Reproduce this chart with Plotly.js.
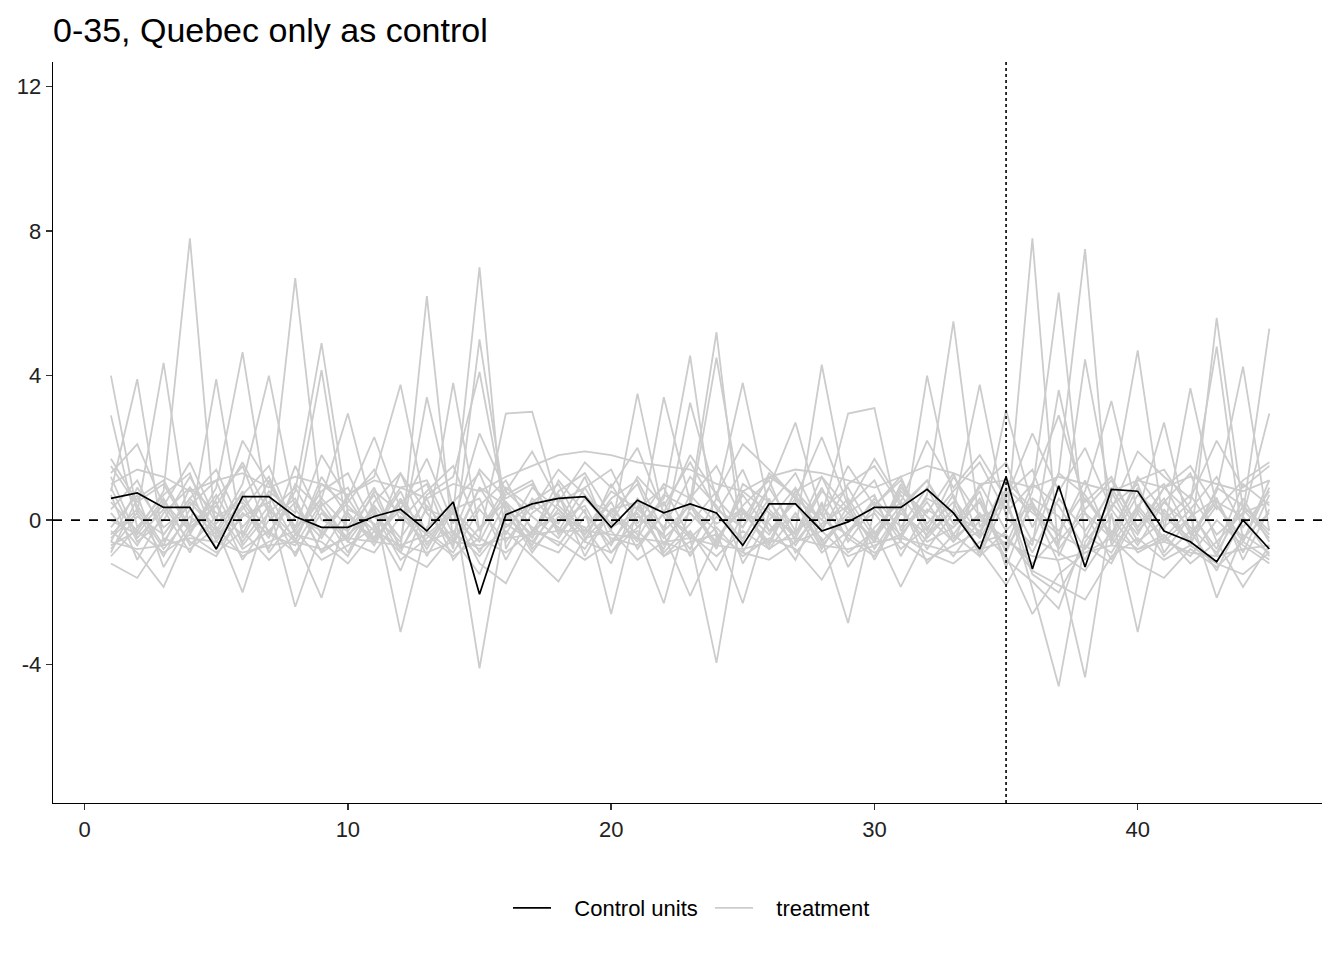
<!DOCTYPE html>
<html>
<head>
<meta charset="utf-8">
<script src="https://cdn.plot.ly/plotly-3.0.1.min.js"></script>
<style>
  html, body { margin: 0; padding: 0; background: #fff; }
  #chart { width: 1344px; height: 960px; }
</style>
</head>
<body>
<div id="chart"></div>
<script>
// periods 1..45
var periods = [];
for (var t = 1; t <= 45; t++) periods.push(t);

var treatPeriod = 35;
var xTicks = [0, 10, 20, 30, 40];
var yTicks = [-4, 0, 4, 8, 12];

// the black line
var control = [0.6, 0.75, 0.35, 0.35, -0.8, 0.65, 0.65, 0.1, -0.2, -0.2,
  0.1, 0.3, -0.3, 0.5, -2.05, 0.15, 0.45, 0.6, 0.65, -0.2,
  0.55, 0.2, 0.45, 0.2, -0.7, 0.45, 0.45, -0.3, -0.05, 0.35,
  0.35, 0.85, 0.2, -0.8, 1.2, -1.35, 0.95, -1.3, 0.85, 0.8,
  -0.3, -0.6, -1.15, 0.0, -0.8];

// grey lines, read off roughly
var tA = [0.5, -0.3, 0.8, 7.8, -0.5, 0.3, 1.2, -0.4, 0.6, -0.2, 0.9, -0.8, 6.2, -0.6, 0.4, 1.1, -0.3, 0.7, -0.5, 0.2, 1.0, -0.7, 0.5, 5.2, -0.9, 0.4, 1.3, -0.2, 0.6, -0.5, 0.9, 0.1, -0.6, 1.0, -0.3, 7.8, -1.0, 0.6, -0.4, 1.2, 0.2, -0.7, 5.6, 0.3, -0.5];
var tB = [-0.6, 0.9, -0.2, 0.4, 1.1, -0.7, 0.2, 6.7, 0.3, -0.9, 0.5, 1.3, -0.4, 0.2, 7.0, -0.8, 0.6, -0.1, 1.2, -0.6, 0.3, 0.9, -0.5, 0.2, 1.4, -0.3, 0.5, -0.8, 0.4, 1.1, -0.5, 0.7, 5.5, -0.2, 0.8, -0.6, 1.3, 7.5, -0.7, 0.4, 1.0, -0.4, 0.6, -0.9, 0.7];
var tC = [1.2, -0.5, 0.3, -0.9, 0.6, 1.5, -0.4, 0.8, 4.9, 0.2, -0.6, 0.5, 1.0, -0.8, 5.0, 0.3, -0.4, 1.1, 0.2, -0.7, 0.6, -0.2, 1.2, 0.4, -0.6, 0.9, -0.3, 4.3, 0.5, -0.8, 0.3, 1.1, -0.4, 0.6, -0.9, 0.8, 6.3, -0.5, 0.9, -0.3, 0.5, 1.3, -0.6, 0.2, 5.3];
var tD = [4.0, 0.2, 4.35, -0.4, 0.9, 4.65, 0.1, -0.6, 1.0, 0.4, -0.3, 0.8, -0.7, 0.5, 1.3, -0.4, 0.9, 0.3, -0.6, 1.0, -0.2, 0.6, 4.55, -0.5, 0.4, 1.1, -0.6, 0.3, 0.9, -0.4, 0.7, -0.3, 1.2, 0.1, -0.7, 1.0, 0.4, -0.8, 0.6, 4.7, -0.2, 0.5, 4.8, -0.6, 0.9];
var tE = [0.8, 3.9, -0.6, 0.5, -0.3, 1.0, 4.0, 0.3, -0.5, 0.7, 1.2, 3.75, 0.2, -0.6, 0.9, 0.4, -0.5, 0.8, 1.3, 0.1, -0.5, 0.7, 0.3, 4.5, 0.2, -0.6, 0.8, 1.2, -0.3, 0.5, -0.6, 4.0, 0.6, -0.4, 1.1, 0.3, -0.7, 4.45, 0.5, -0.4, 0.9, 0.2, -0.8, 1.0, 0.4];
var tF = [-0.9, 0.6, 1.1, -0.2, 3.9, -0.5, 0.8, 0.2, 4.15, -0.4, 0.3, -0.9, 0.7, 1.2, 4.1, 0.2, -0.7, 0.5, 0.9, -0.3, 3.5, 0.1, -0.8, 0.6, 3.8, 0.3, -0.5, 0.8, 0.2, -0.6, 1.0, -0.2, 0.5, -0.9, 0.9, 0.2, -0.4, 1.1, -0.6, 0.7, 0.1, -0.5, 0.8, 4.25, -0.3];
var tG = [2.9, -0.2, 0.7, 1.3, -0.6, 0.4, -0.8, 1.0, 0.3, -0.5, 0.8, 0.2, -0.4, 3.8, -0.3, 0.7, 1.1, -0.4, 0.6, 0.2, -0.6, 3.4, 0.5, -0.7, 0.8, 0.2, -0.4, 0.9, -0.6, 0.4, 1.2, -0.5, 0.3, 3.75, 0.1, -0.7, 3.6, 0.2, -0.5, 0.9, -0.3, 3.65, 0.4, -0.6, 1.1];
var tH = [1.5, 0.4, -0.7, 0.9, 0.2, -0.4, 1.1, -0.2, 0.6, 2.95, 0.1, -0.6, 3.4, 0.3, -0.5, 2.95, 3.0, 0.4, -0.3, 0.8, 0.3, -0.4, 3.25, 0.6, -0.2, 0.9, 2.7, 0.1, 2.95, 3.1, -0.3, 0.6, 0.2, -0.5, 3.05, 0.4, -0.3, 0.8, 3.3, 0.2, 2.7, -0.4, 0.5, 0.1, 2.95];
var tL1 = [-0.4, 0.3, -0.8, 0.1, -0.5, 0.6, -0.3, -0.9, 0.2, -0.6, 0.4, -3.1, -0.2, 0.5, -4.1, 0.1, -0.6, 0.3, -0.4, 0.5, -0.8, 0.2, -0.5, -3.95, 0.3, -0.4, 0.6, -0.7, 0.1, -0.5, 0.4, -0.8, 0.2, -0.3, 0.6, -1.9, -4.6, -0.6, 0.3, -0.7, 0.5, -0.2, -0.9, 0.4, -0.4];
var tL2 = [0.2, -0.7, 0.5, -0.3, 0.7, -0.6, 0.4, -2.4, -0.3, 0.6, -0.5, 0.3, -0.8, 0.4, -0.9, 0.5, -0.2, -0.7, 0.3, -2.6, 0.4, -0.5, 0.2, -0.6, 0.7, -0.3, 0.1, -0.5, -2.85, 0.3, -0.4, 0.5, -0.6, 0.2, -0.8, 0.4, -1.2, -4.35, 0.2, -3.1, 0.3, -0.6, 0.4, -0.5, 0.2];
var tL3 = [-0.8, 0.1, -0.4, 0.6, -0.2, -2.0, 0.3, -0.5, -2.15, 0.2, -0.7, 0.5, -0.3, -0.9, 0.3, -0.6, 0.4, -0.2, -0.8, 0.3, -0.4, -2.3, 0.4, -0.3, -2.3, 0.2, -0.7, 0.4, -0.5, -1.0, 0.3, -0.6, -0.2, 0.5, -1.1, -1.7, -2.45, -0.4, -0.9, 0.3, -0.6, 0.1, -2.15, -0.4, -0.9];
var tL4 = [-0.3, -0.9, -1.85, -0.2, 0.4, -0.8, -0.3, 0.5, -0.9, -0.4, 0.2, -1.1, -0.5, 0.2, -1.2, -1.75, -0.3, 0.2, -0.6, -0.9, 0.1, -0.4, -2.1, -0.5, 0.3, -0.8, -0.3, 0.2, -0.9, -0.3, -1.85, -0.4, 0.3, -0.8, -1.8, -0.5, -0.9, -1.4, -0.3, -0.8, -0.4, -1.2, -0.6, -1.85, -0.7];
var tL5 = [-1.2, -1.6, -0.5, -0.8, -0.2, -1.0, -0.6, -0.3, -1.1, -0.7, -0.2, -0.9, -1.3, -0.4, -0.8, -0.3, -1.0, -1.7, -0.5, -0.3, -1.1, -0.6, -0.9, -0.2, -1.0, -0.5, -0.8, -1.65, -0.4, -0.9, -0.6, -1.1, -0.7, -0.3, -1.0, -2.6, -1.5, -0.9, -0.5, -1.2, -1.6, -0.8, -1.3, -0.6, -1.1];
var tS1 = [1.0, 1.4, 1.2, 0.8, 1.1, 1.3, 0.9, 1.2, 1.0, 0.7, 1.1, 0.9, 0.6, 1.0, 0.8, 1.2, 1.5, 1.8, 1.9, 1.8, 1.6, 1.5, 1.4, 1.0, 0.8, 1.2, 1.4, 1.3, 1.1, 0.9, 1.2, 1.5, 1.3, 1.0, 1.1, 0.9, 1.2, 1.0, 0.8, 1.1, 0.9, 1.2, 1.0, 0.8, 1.1];
var tS2 = [-0.6, -0.8, -0.7, -0.5, -0.6, -0.9, -0.7, -0.6, -0.8, -0.5, -0.6, -0.7, -0.9, -0.6, -0.7, -0.5, -0.4, -0.3, -0.3, -0.4, -0.5, -0.6, -0.5, -0.7, -0.8, -0.6, -0.5, -0.7, -0.8, -0.6, -0.5, -0.7, -0.9, -0.8, -0.6, -1.0, -1.1, -0.9, -0.7, -0.8, -0.6, -0.9, -1.0, -0.8, -0.7];
var tN1 = [0.3, 1.1, -0.4, 0.6, 1.4, -0.2, 0.7, -0.6, 1.2, 0.1, -0.5, 1.3, 0.2, -0.7, 0.9, -0.2, 0.5, 1.0, -0.4, 0.6, 1.1, -0.3, 0.4, -0.8, 1.0, 0.5, -0.4, 1.2, 0.3, -0.6, 0.8, 0.2, 1.3, -0.5, 0.7, 1.4, -0.6, 0.3, 1.1, -0.2, 0.6, -0.7, 0.9, 0.4, -0.3];
var tN2 = [-0.5, 0.2, -1.0, 0.3, -0.4, 0.8, -0.9, 0.1, -0.3, -1.0, 0.4, -0.5, 0.6, -1.1, -0.2, 0.5, -0.8, 0.0, 0.4, -0.9, -0.2, 0.5, -1.0, 0.1, -0.5, 0.6, -0.9, -0.1, 0.4, -1.1, 0.2, -0.4, 0.7, -1.0, -0.3, 0.5, -0.8, 0.2, -1.1, 0.4, -0.5, 0.3, -1.0, 0.6, -0.6];
var tN3 = [1.7, 0.5, 1.0, -0.3, 0.4, 1.6, 0.2, 0.9, -0.4, 0.5, 1.4, 0.0, 0.8, 1.5, -0.3, 0.9, 0.3, 1.4, 0.7, -0.1, 1.2, 0.4, 1.6, 0.3, -0.2, 1.3, 0.6, 0.0, 1.5, 0.4, 1.1, -0.1, 0.8, 1.6, 0.2, 1.0, 2.9, 0.5, 1.2, -0.2, 0.9, 1.5, 0.3, 1.1, 1.6];
var tN4 = [0.0, -0.4, 0.6, -0.7, 0.1, 0.5, -0.5, 1.5, 0.0, -0.3, 0.7, -0.8, 0.3, 0.0, -0.6, 0.8, 0.1, -0.5, 0.6, -0.2, 0.2, -0.8, 0.7, -0.1, 0.3, -0.7, 0.8, 0.0, -0.4, 0.6, -0.2, 0.9, -0.5, 0.1, 0.4, -0.9, 0.6, -0.3, 0.8, -0.6, 0.0, 0.7, -0.4, 0.2, 0.5];
var tN5 = [0.7, -1.1, 0.2, 0.9, -0.8, 0.1, 0.5, -1.0, 0.4, 0.9, -0.6, 0.6, -1.0, 0.3, 0.6, -1.1, 0.2, 0.7, -1.0, 0.3, 0.5, -0.9, -0.1, 0.8, -1.2, 0.0, 0.9, -0.6, 0.2, 0.7, -1.0, 0.3, -0.2, 0.8, -1.3, 0.6, 0.1, -1.1, 0.4, 1.0, -0.9, 0.1, 0.6, -1.1, 0.3];
var tN6 = [-1.0, -0.2, 0.4, -0.6, -1.0, 0.2, -0.4, -0.7, 0.5, -0.6, -0.9, 0.1, -0.6, -0.3, -1.0, -0.1, -0.6, -0.9, 0.1, -0.5, -0.7, 0.2, -0.4, -1.0, -0.3, -0.8, 0.2, -0.9, -0.3, 0.2, -0.8, -0.2, -1.0, 0.0, -0.5, -1.2, -0.4, -0.8, 0.1, -0.9, -0.5, -1.0, 0.0, -0.7, -1.2];
var tN7 = [1.3, 2.1, 0.4, 1.6, 0.0, 2.2, 1.0, -0.2, 1.8, 0.6, 2.3, 0.3, 1.7, -0.1, 2.4, 0.8, 1.9, 0.5, 1.6, 0.9, 2.0, 0.2, 1.8, 0.7, 2.1, 1.4, 0.6, 2.3, 0.4, 1.7, 0.5, 2.2, 0.9, 1.8, 0.6, 2.4, 0.8, 2.0, 0.3, 1.9, 1.2, 0.6, 2.2, 0.9, 1.5];
var tN8 = [-0.2, 0.7, -1.3, -0.1, 0.5, -1.1, 0.0, 0.6, -0.9, 0.3, -0.1, -1.4, 0.4, -0.5, -1.5, 0.3, -0.9, 0.1, -0.2, -1.2, 0.6, -1.0, -0.3, -1.4, 0.2, -0.1, -1.1, 0.5, -1.3, -0.2, 0.5, -1.2, -0.4, -1.0, 0.6, -1.5, -2.0, -0.7, -1.2, 0.2, -1.0, -0.3, -1.4, 0.1, -1.0];
var tN9 = [0.9, -0.6, 0.0, 1.2, -0.1, 0.7, 1.5, -0.3, 0.8, 1.3, -0.2, 0.9, 1.1, -0.4, 1.4, 0.6, 1.0, -0.3, 0.9, 1.4, -0.1, 1.0, 0.6, 1.5, 0.0, 1.2, 0.7, -0.3, 1.0, 1.5, 0.4, 1.1, -0.1, 0.9, 1.6, -0.2, 1.3, 0.7, -0.4, 1.1, 1.4, 0.3, 1.2, -0.2, 0.8];
var tN10 = [-0.7, -0.3, -0.9, -0.4, -0.9, -0.3, -1.1, -0.4, -0.6, -1.2, -0.3, -0.7, -0.4, -1.0, -0.5, -0.9, -0.3, -0.6, -1.1, -0.6, -0.3, -1.0, -0.6, -0.4, -0.9, -1.1, -0.6, -0.3, -1.0, -0.7, -0.4, -0.9, -1.2, -0.6, -0.4, -1.4, -1.8, -2.2, -1.0, -0.5, -1.1, -0.7, -1.2, -1.5, -0.9];

var treatment = [tS2, tL5, tN10, tN6, tL4, tN8, tL3, tL2, tL1, tN2, tN4, tN5,
  tS1, tN9, tN1, tN3, tN7, tH, tG, tF, tE, tD, tC, tB, tA];

// a little room between legend key and label, as ggplot draws it
var pad = '\u00a0\u00a0\u00a0';

var data = [];
treatment.forEach(function(ys, i) {
  data.push({
    x: periods, y: ys, type: 'scatter', mode: 'lines',
    name: pad + 'treatment', legendgroup: 'treatment', legendrank: 2,
    showlegend: i === 0,
    line: {color: '#cccccc', width: 1.8},
    hoverinfo: 'skip'
  });
});
data.push({
  x: periods, y: control, type: 'scatter', mode: 'lines',
  name: pad + 'Control units', legendgroup: 'control', legendrank: 1,
  line: {color: '#000000', width: 1.7}
});

var axisFont = {family: 'Liberation Sans, Arial, sans-serif', size: 22, color: '#222'};

var layout = {
  width: 1344, height: 960,
  paper_bgcolor: '#fff', plot_bgcolor: '#fff',
  margin: {l: 53, r: 22, t: 62, b: 157},
  font: {family: 'Liberation Sans, Arial, sans-serif', color: '#000'},
  title: {
    text: '0-35, Quebec only as control',
    font: {size: 34, color: '#000'},
    xref: 'container', x: 53 / 1344, xanchor: 'left',
    yref: 'container', y: 1 - 30 / 960, yanchor: 'middle'
  },
  xaxis: {
    range: [-1.2, 47.0], tickvals: xTicks, ticktext: xTicks.map(String),
    showgrid: false, zeroline: false,
    showline: true, linecolor: '#000', linewidth: 1.4,
    ticks: 'outside', ticklen: 6, tickwidth: 1.4, tickcolor: '#333',
    tickfont: axisFont
  },
  yaxis: {
    range: [-7.83, 12.68], tickvals: yTicks, ticktext: yTicks.map(String),
    showgrid: false, zeroline: false,
    showline: true, linecolor: '#000', linewidth: 1.4,
    ticks: 'outside', ticklen: 6, tickwidth: 1.4, tickcolor: '#333',
    tickfont: axisFont
  },
  showlegend: true,
  legend: {
    orientation: 'h',
    xref: 'container', x: 508 / 1344, xanchor: 'left',
    yref: 'container', y: 1 - 908 / 960, yanchor: 'middle',
    font: {size: 22, color: '#000'},
    itemwidth: 38,
    entrywidth: 149, entrywidthmode: 'pixels',
    bgcolor: 'rgba(0,0,0,0)'
  },
  shapes: [
    {type: 'line', xref: 'paper', x0: 0, x1: 1, yref: 'y', y0: 0, y1: 0,
     line: {color: '#000', width: 1.6, dash: 'dash'}, layer: 'above'},
    {type: 'line', xref: 'x', x0: treatPeriod, x1: treatPeriod, yref: 'paper', y0: 0, y1: 1,
     line: {color: '#000', width: 1.6, dash: 'dot'}, layer: 'above'}
  ]
};

Plotly.newPlot('chart', data, layout, {displayModeBar: false, staticPlot: true});
</script>
</body>
</html>
